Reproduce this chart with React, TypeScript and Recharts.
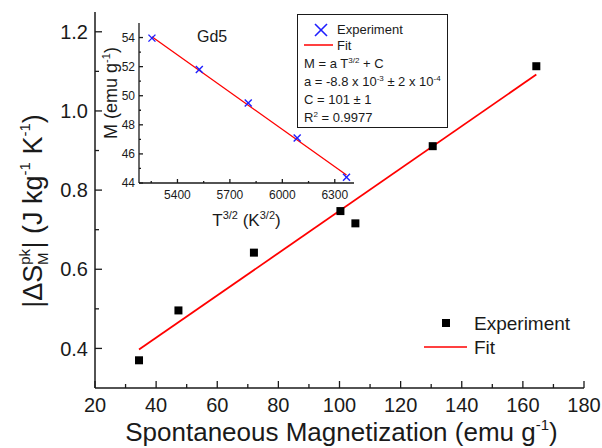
import React from 'react';
import { ComposedChart, Scatter, Line, XAxis, YAxis, Legend, Label } from 'recharts';

// main panel: peak entropy change vs spontaneous magnetization
const expMag = [34.4, 47.3, 72.0, 100.3, 105.2, 130.5, 164.4];
const expDS = [0.370, 0.496, 0.642, 0.747, 0.716, 0.911, 1.113];
const fitMag = [34.4, 164.4];
const fitDS = [0.397, 1.092];

const mainXTicks = [20, 30, 40, 50, 60, 70, 80, 90, 100, 110, 120, 130, 140, 150, 160, 170, 180];
const mainXMajor = [20, 40, 60, 80, 100, 120, 140, 160, 180];
const mainYTicks = [0.4, 0.5, 0.6, 0.7, 0.8, 0.9, 1.0, 1.1, 1.2];
const mainYMajor = [0.4, 0.6, 0.8, 1.0, 1.2];

// inset: M vs T^(3/2) for Gd5
const insetT = [5254, 5525, 5805, 6085, 6367];
const insetM = [53.96, 51.8, 49.5, 47.1, 44.4];
const insetFitT = [5254, 6367];
const insetFitM = [54.05, 44.55];

const insetXTicks = [5250, 5400, 5550, 5700, 5850, 6000, 6150, 6300];
const insetXMajor = [5400, 5700, 6000, 6300];
const insetYTicks = [44, 45, 46, 47, 48, 49, 50, 51, 52, 53, 54];
const insetYMajor = [44, 46, 48, 50, 52, 54];

const expData = expMag.map((x, i) => ({ x, y: expDS[i] }));
const fitData = fitMag.map((x, i) => ({ x, y: fitDS[i] }));
const insetExp = insetT.map((x, i) => ({ x, y: insetM[i] }));
const insetFit = insetFitT.map((x, i) => ({ x, y: insetFitM[i] }));

const FONT = 'Arial, "Liberation Sans", sans-serif';
const INK = '#1a1a1a';

const isIn = (arr: number[], v: number) => arr.some((m) => Math.abs(m - v) < 1e-6);

// ticks drawn pointing into the plot, Origin-style
const makeTick = (side: string, majors: number[], big: number, small: number, fontSize: number, gap: number, fmt?: (v: number) => string) =>
  (props: any) => {
    const { x, y, payload } = props;
    const major = isIn(majors, payload.value);
    const len = major ? big : small;
    let line = null;
    let label = null;
    if (side === 'bottom') {
      line = <line x1={x} y1={y} x2={x} y2={y - len} stroke={INK} strokeWidth={1.3} />;
      if (major && fmt) label = <text x={x} y={y + gap} textAnchor="middle" fontSize={fontSize} fontFamily={FONT} fill={INK}>{fmt(payload.value)}</text>;
    } else if (side === 'top') {
      line = <line x1={x} y1={y} x2={x} y2={y + len} stroke={INK} strokeWidth={1.3} />;
    } else if (side === 'left') {
      line = <line x1={x} y1={y} x2={x + len} y2={y} stroke={INK} strokeWidth={1.3} />;
      if (major && fmt) label = <text x={x - gap} y={y} dy="0.36em" textAnchor="end" fontSize={fontSize} fontFamily={FONT} fill={INK}>{fmt(payload.value)}</text>;
    } else {
      line = <line x1={x} y1={y} x2={x - len} y2={y} stroke={INK} strokeWidth={1.3} />;
    }
    return <g>{line}{label}</g>;
  };

const Square = (props: any) => {
  const { cx, cy } = props;
  return <rect x={cx - 4} y={cy - 4} width={8} height={8} fill="#000" />;
};

const Cross = (props: any) => {
  const { cx, cy } = props;
  const r = 3.5;
  return (
    <g stroke="#1f1fff" strokeWidth={1.4}>
      <line x1={cx - r} y1={cy - r} x2={cx + r} y2={cy + r} />
      <line x1={cx - r} y1={cy + r} x2={cx + r} y2={cy - r} />
    </g>
  );
};

const XTitle = (props: any) => {
  const { viewBox } = props;
  const cx = viewBox.x + viewBox.width / 2;
  return (
    <text x={cx + 2} y={viewBox.y + 53} textAnchor="middle" fontSize={26} fontFamily={FONT} fill={INK}>
      Spontaneous Magnetization (emu g<tspan fontSize={15} dy={-11}>-1</tspan><tspan dy={11}>)</tspan>
    </text>
  );
};

const YTitle = (props: any) => {
  const { viewBox } = props;
  const cx = 42;
  const cy = viewBox.y + viewBox.height / 2 + 11;
  return (
    <text x={cx} y={cy} transform={`rotate(-90 ${cx} ${cy})`} textAnchor="middle" fontSize={27} fontFamily={FONT} fill={INK}>
      |ΔS<tspan fontSize={15} dy={-12}>pk</tspan><tspan fontSize={15} dx={-16} dy={18}>M</tspan><tspan dx={4} dy={-6}>| (J kg</tspan><tspan fontSize={15} dy={-12}>-1</tspan><tspan dy={12}> K</tspan><tspan fontSize={15} dy={-12}>-1</tspan><tspan dy={12}>)</tspan>
    </text>
  );
};

const InsetXTitle = (props: any) => {
  const { viewBox } = props;
  const cx = viewBox.x + viewBox.width / 2;
  return (
    <text x={cx} y={viewBox.y + 43} textAnchor="middle" fontSize={17} fontFamily={FONT} fill={INK}>
      T<tspan fontSize={11} dy={-7}>3/2</tspan><tspan dy={7}> (K</tspan><tspan fontSize={11} dy={-7}>3/2</tspan><tspan dy={7}>)</tspan>
    </text>
  );
};

const InsetYTitle = (props: any) => {
  const { viewBox } = props;
  const cx = 17;
  const cy = viewBox.y + viewBox.height / 2 - 10;
  return (
    <text x={cx} y={cy} transform={`rotate(-90 ${cx} ${cy})`} textAnchor="middle" fontSize={18} fontFamily={FONT} fill={INK}>
      M (emu g<tspan fontSize={11} dy={-7}>-1</tspan><tspan dy={7}>)</tspan>
    </text>
  );
};

const MainLegend = () => (
  <svg width={170} height={50} style={{ display: 'block', overflow: 'visible' }}>
    <rect x={18} y={4} width={8} height={8} fill="#000" />
    <text x={50} y={8} dy="0.36em" fontSize={19} fontFamily={FONT} fill={INK}>Experiment</text>
    <line x1={0} y1={32} x2={43} y2={32} stroke="#ff0000" strokeWidth={1.5} />
    <text x={50} y={32} dy="0.36em" fontSize={19} fontFamily={FONT} fill={INK}>Fit</text>
  </svg>
);

const Sup = ({ children }: { children: React.ReactNode }) => (
  <span style={{ fontSize: 8, position: 'relative', top: -5, lineHeight: 0 }}>{children}</span>
);

const InsetLegend = () => (
  <div style={{ width: 149, height: 112, border: `1.3px solid ${INK}`, background: '#fff', fontFamily: FONT, fontSize: 13, color: INK, position: 'relative' }}>
    <svg width={149} height={50} style={{ position: 'absolute', left: 0, top: 0 }}>
      <g stroke="#1f1fff" strokeWidth={1.6}>
        <line x1={17} y1={9} x2={29} y2={21} />
        <line x1={17} y1={21} x2={29} y2={9} />
      </g>
      <text x={39} y={14} dy="0.36em" fontSize={13} fontFamily={FONT} fill={INK}>Experiment</text>
      <line x1={6} y1={30} x2={35} y2={30} stroke="#ff0000" strokeWidth={1.5} />
      <text x={39} y={30} dy="0.36em" fontSize={13} fontFamily={FONT} fill={INK}>Fit</text>
    </svg>
    <div style={{ position: 'absolute', left: 6, top: 40, lineHeight: '18px', whiteSpace: 'nowrap' }}>
      <div>M = a T<Sup>3/2</Sup> + C</div>
      <div>a = -8.8 x 10<Sup>-3</Sup> ± 2 x 10<Sup>-4</Sup></div>
      <div>C = 101 ± 1</div>
      <div>R<Sup>2</Sup> = 0.9977</div>
    </div>
  </div>
);

const fmt1 = (v: number) => v.toFixed(1);
const fmt0 = (v: number) => String(v);

export default function App() {
  return (
    <div style={{ position: 'absolute', left: 0, top: 0, width: 602, height: 448, background: '#fff', fontFamily: FONT }}>
      <ComposedChart width={602} height={448} margin={{ top: 12, right: 18, bottom: 0, left: 0 }}>
        <XAxis xAxisId="b" dataKey="x" type="number" domain={[20, 180]} ticks={mainXTicks} interval={0}
          height={60} tickSize={0} tickMargin={0} tickLine={false} axisLine={{ stroke: INK, strokeWidth: 1.5 }}
          tick={makeTick('bottom', mainXMajor, 7, 4, 20, 24, fmt0)}>
          <Label content={<XTitle />} />
        </XAxis>
        <XAxis xAxisId="t" orientation="top" type="number" domain={[20, 180]} ticks={mainXTicks} interval={0}
          height={0} tickSize={0} tickMargin={0} tickLine={false} axisLine={{ stroke: INK, strokeWidth: 1.5 }}
          tick={makeTick('top', mainXMajor, 7, 4, 20, 0)} />
        <YAxis yAxisId="l" type="number" domain={[0.3, 1.25]} ticks={mainYTicks} interval={0}
          width={95} tickSize={0} tickMargin={0} tickLine={false} axisLine={{ stroke: INK, strokeWidth: 1.5 }}
          tick={makeTick('left', mainYMajor, 7, 4, 20, 7, fmt1)}>
          <Label content={<YTitle />} />
        </YAxis>
        <YAxis yAxisId="r" orientation="right" type="number" domain={[0.3, 1.25]} ticks={mainYTicks} interval={0}
          width={0} tickSize={0} tickMargin={0} tickLine={false} axisLine={{ stroke: INK, strokeWidth: 1.5 }}
          tick={makeTick('right', mainYMajor, 7, 4, 20, 0)} />
        <Line xAxisId="b" yAxisId="l" data={fitData} dataKey="y" name="Fit" stroke="#ff0000" strokeWidth={1.8}
          dot={false} activeDot={false} isAnimationActive={false} />
        <Scatter xAxisId="b" yAxisId="l" data={expData} dataKey="y" name="Experiment" shape={<Square />}
          isAnimationActive={false} />
        <Legend layout="vertical" align="center" verticalAlign="middle" content={<MainLegend />}
          wrapperStyle={{ position: 'absolute', left: 424, top: 315, width: 170, height: 50 }} />
      </ComposedChart>

      <div style={{ position: 'absolute', left: 100, top: 0 }}>
        <ComposedChart width={360} height={230} margin={{ top: 23, right: 106, bottom: 0, left: 0 }}>
          <XAxis dataKey="x" type="number" domain={[5180, 6410]} ticks={insetXTicks} interval={0}
            height={47} tickSize={0} tickMargin={0} tickLine={false} axisLine={{ stroke: INK, strokeWidth: 1.3 }}
            tick={makeTick('bottom', insetXMajor, 4, 2, 12, 16, fmt0)}>
            <Label content={<InsetXTitle />} />
          </XAxis>
          <XAxis xAxisId="t" orientation="top" type="number" domain={[5180, 6410]} ticks={insetXTicks} interval={0}
            height={0} tickSize={0} tickMargin={0} tickLine={false} axisLine={{ stroke: INK, strokeWidth: 1.3 }}
            tick={false} />
          <YAxis type="number" domain={[44, 55]} ticks={insetYTicks} interval={0}
            width={39} tickSize={0} tickMargin={0} tickLine={false} axisLine={{ stroke: INK, strokeWidth: 1.3 }}
            tick={makeTick('left', insetYMajor, 4, 2, 12, 4, fmt0)}>
            <Label content={<InsetYTitle />} />
          </YAxis>
          <YAxis yAxisId="r" orientation="right" type="number" domain={[44, 55]} ticks={insetYTicks}
            width={0} tickSize={0} tickLine={false} axisLine={{ stroke: INK, strokeWidth: 1.3 }} tick={false} />
          <Line data={insetFit} dataKey="y" name="Fit" stroke="#ff0000" strokeWidth={1.3}
            dot={false} activeDot={false} isAnimationActive={false} />
          <Scatter data={insetExp} dataKey="y" name="Experiment" shape={<Cross />} isAnimationActive={false} />
          <Legend layout="vertical" align="center" verticalAlign="middle" content={<InsetLegend />}
            wrapperStyle={{ position: 'absolute', left: 197, top: 14, width: 151, height: 114 }} />
        </ComposedChart>
        <div style={{ position: 'absolute', left: 97, top: 28, fontSize: 16, fontFamily: FONT, color: INK }}>Gd5</div>
      </div>
    </div>
  );
}
